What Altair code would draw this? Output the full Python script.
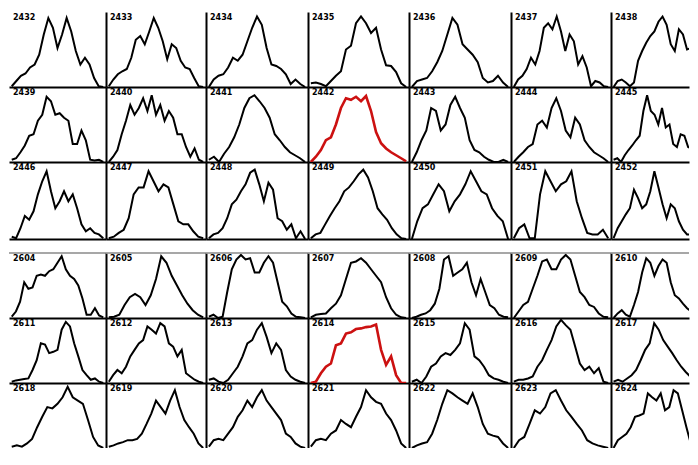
import altair as alt
import pandas as pd

# ---- panel ids (two groups of 3 rows x 7 columns) ----
top_rows = [[2432, 2433, 2434, 2435, 2436, 2437, 2438],
            [2439, 2440, 2441, 2442, 2443, 2444, 2445],
            [2446, 2447, 2448, 2449, 2450, 2451, 2452]]
bottom_rows = [[2604, 2605, 2606, 2607, 2608, 2609, 2610],
               [2611, 2612, 2613, 2614, 2615, 2616, 2617],
               [2618, 2619, 2620, 2621, 2622, 2623, 2624]]
highlight = [2442, 2614]

# ---- traces (relative height, 0-100) ----
s2432 = [1, 8, 15, 18, 26, 30, 43, 70, 92, 79, 52, 70, 92, 74, 48, 30, 39, 30, 12, 1, 0]
s2433 = [1, 10, 17, 21, 24, 39, 63, 68, 57, 74, 92, 79, 61, 37, 57, 52, 35, 26, 24, 12, 1, 0]
s2434 = [0, 10, 15, 17, 26, 39, 35, 43, 61, 79, 94, 83, 52, 30, 28, 24, 17, 4, 10, 4, 0]
s2435 = [5, 6, 4, 1, 8, 15, 21, 50, 55, 85, 94, 85, 72, 79, 50, 29, 28, 20, 5, 0]
s2436 = [0, 8, 10, 12, 21, 33, 48, 70, 92, 83, 57, 50, 43, 33, 12, 6, 8, 15, 6, 0]
s2437 = [0, 10, 15, 24, 39, 30, 48, 79, 85, 77, 94, 74, 48, 70, 61, 30, 41, 26, 1, 8, 6, 1, 0]
s2438 = [0, 8, 10, 6, 1, 6, 35, 48, 59, 68, 74, 87, 94, 83, 57, 48, 77, 70, 50, 52, 30, 8]

s2439 = [3, 5, 13, 22, 35, 37, 55, 63, 87, 81, 63, 65, 59, 55, 24, 24, 42, 29, 3, 2, 3, 0]
s2440 = [0, 7, 16, 37, 55, 76, 63, 72, 85, 68, 89, 63, 76, 55, 68, 59, 37, 37, 20, 7, 18, 3, 0]
s2441 = [3, 7, 0, 11, 20, 33, 50, 72, 85, 89, 81, 72, 59, 37, 29, 20, 13, 9, 5, 0]
s2442 = [0, 7, 16, 29, 33, 50, 72, 85, 83, 87, 81, 88, 68, 40, 25, 18, 13, 9, 5, 1]
s2443 = [0, 13, 29, 42, 72, 68, 42, 50, 76, 87, 72, 59, 29, 16, 13, 7, 3, 0, 0, 3, 0]
s2444 = [0, 7, 13, 20, 24, 50, 55, 46, 72, 85, 68, 42, 33, 59, 50, 29, 20, 13, 9, 5, 0]
s2445 = [3, 5, 0, 9, 16, 22, 29, 35, 68, 89, 68, 63, 50, 72, 46, 50, 24, 20, 37, 35, 20, 18, 12, 5]

s2446 = [3, 1, 14, 30, 25, 36, 58, 75, 88, 62, 40, 49, 62, 49, 58, 40, 19, 10, 14, 8, 6, 1]
s2447 = [1, 3, 8, 12, 27, 58, 67, 67, 88, 75, 62, 71, 67, 45, 23, 19, 19, 10, 3, 1]
s2448 = [1, 6, 8, 14, 27, 45, 51, 62, 71, 86, 90, 71, 49, 73, 64, 27, 23, 12, 19, 1, 10, 0]
s2449 = [1, 6, 8, 19, 30, 40, 49, 62, 67, 75, 84, 90, 80, 62, 40, 32, 25, 14, 6, 1, 0]
s2450 = [0, 23, 40, 45, 58, 71, 62, 36, 49, 58, 71, 88, 75, 62, 58, 40, 30, 23, 0]
s2451 = [1, 14, 19, 1, 1, 58, 88, 75, 62, 71, 75, 88, 49, 27, 8, 6, 6, 12, 1]
s2452 = [1, 14, 23, 32, 40, 64, 53, 40, 45, 62, 88, 67, 45, 27, 45, 40, 23, 12, 6, 6, 3, 0]

s2604 = [2, 10, 25, 55, 45, 47, 65, 67, 65, 72, 75, 85, 95, 75, 65, 60, 50, 30, 5, 5, 15, 4, 1]
s2605 = [1, 2, 5, 20, 32, 37, 32, 20, 35, 60, 95, 85, 65, 50, 35, 22, 12, 5, 1]
s2606 = [2, 5, 0, 2, 40, 75, 90, 97, 90, 92, 70, 70, 85, 95, 85, 55, 25, 18, 7, 2, 1, 0]
s2607 = [1, 5, 6, 7, 15, 22, 35, 60, 85, 87, 92, 85, 75, 65, 55, 32, 15, 5, 1, 0]
s2608 = [0, 2, 5, 7, 12, 22, 45, 90, 95, 65, 70, 75, 85, 55, 35, 60, 40, 20, 15, 5, 2, 1]
s2609 = [0, 10, 20, 25, 45, 65, 87, 90, 75, 75, 90, 97, 90, 65, 40, 32, 20, 17, 7, 2, 1]
s2610 = [0, 7, 12, 5, 2, 20, 40, 70, 92, 85, 65, 80, 90, 85, 55, 35, 30, 22, 15, 10, 5, 1]

s2611 = [2, 4, 5, 6, 7, 20, 35, 61, 59, 46, 48, 51, 82, 94, 87, 61, 41, 20, 12, 5, 7, 2, 0]
s2612 = [2, 12, 20, 15, 25, 41, 51, 61, 66, 87, 82, 76, 92, 87, 61, 56, 41, 51, 15, 10, 5, 2, 0]
s2613 = [5, 7, 2, 0, 5, 15, 25, 41, 61, 66, 82, 92, 71, 46, 61, 51, 20, 10, 5, 2, 0]
s2614 = [0, 2, 15, 25, 30, 58, 61, 76, 78, 83, 84, 86, 87, 90, 51, 28, 41, 12, 0, 0]
s2615 = [2, 5, 0, 10, 25, 30, 41, 46, 43, 51, 61, 92, 82, 41, 35, 25, 12, 7, 5, 2, 0]
s2616 = [2, 5, 5, 7, 10, 25, 35, 51, 66, 87, 97, 89, 82, 56, 30, 20, 25, 15, 23, 2, 0]
s2617 = [2, 5, 2, 7, 12, 20, 35, 51, 61, 92, 82, 66, 56, 46, 35, 25, 17, 10, 5, 1]

s2618 = [2, 4, 2, 7, 14, 32, 48, 63, 61, 68, 78, 94, 78, 73, 68, 43, 17, 4, 0]
s2619 = [2, 4, 7, 9, 12, 12, 14, 22, 37, 53, 73, 63, 53, 73, 89, 63, 43, 32, 22, 7, 0]
s2620 = [2, 12, 14, 12, 22, 32, 48, 58, 73, 63, 78, 89, 73, 63, 53, 43, 22, 17, 7, 2, 0]
s2621 = [2, 12, 14, 12, 22, 27, 43, 37, 32, 48, 63, 89, 78, 71, 68, 53, 43, 27, 7, 0]
s2622 = [0, 4, 7, 9, 22, 43, 68, 89, 84, 78, 73, 68, 84, 63, 37, 22, 19, 17, 7, 0]
s2623 = [0, 12, 17, 37, 58, 53, 63, 84, 89, 73, 58, 48, 37, 27, 12, 7, 4, 2, 0]
s2624 = [0, 12, 17, 22, 32, 48, 50, 53, 84, 78, 73, 84, 58, 63, 89, 84, 58, 32, 7, 2, 0]

series = {k: v for k, v in globals().items() if k.startswith("s2") and isinstance(v, list)}

col_widths = [97, 100, 102, 101, 102, 100, 78]
top_heights = [75, 75, 77]
bottom_heights = [65, 65, 65]


def cell(pid, col, height, show_bottom, top_rule):
    vals = series["s%d" % pid]
    n = len(vals)
    df = pd.DataFrame({"x": [i / (n - 1) for i in range(n)], "v": vals})
    w = col_widths[col]
    xmax = 0.88 if col == 6 else 1.03
    red = pid in highlight
    line = alt.Chart(df).mark_line(
        color="#cc1111" if red else "black",
        strokeWidth=2.6 if red else 2,
        clip=True,
    ).encode(
        x=alt.X("x:Q", scale=alt.Scale(domain=[-0.03, xmax], nice=False, zero=False),
                axis=alt.Axis(title=None, labels=False, ticks=False, grid=False,
                              domain=show_bottom, domainColor="black", domainWidth=2)),
        y=alt.Y("v:Q", scale=alt.Scale(domain=[0, 100], nice=False),
                axis=alt.Axis(title=None, labels=False, ticks=False, grid=False,
                              domain=(col != 0), domainColor="black", domainWidth=2)),
    )
    label = alt.Chart(pd.DataFrame({"t": [str(pid)]})).mark_text(
        align="left", baseline="middle", fontSize=8, fontWeight="bold",
        font="DejaVu Sans", color="black",
    ).encode(text="t:N", x=alt.value(4), y=alt.value(6))
    layers = [line, label]
    if top_rule:
        rule = alt.Chart(pd.DataFrame({"a": [0]})).mark_rule(
            color="#8a8a8a", strokeWidth=1.5
        ).encode(x=alt.value(0), x2=alt.value(w), y=alt.value(0))
        layers.append(rule)
    return alt.layer(*layers).properties(width=w, height=height)


def group(rows, heights, is_bottom):
    out = []
    for r, ids in enumerate(rows):
        show_bottom = not (is_bottom and r == len(rows) - 1)
        top_rule = is_bottom and r == 0
        out.append(alt.hconcat(*[cell(pid, c, heights[r], show_bottom, top_rule)
                                 for c, pid in enumerate(ids)],
                               spacing=0, bounds="flush"))
    return alt.vconcat(*out, spacing=0)


chart = alt.vconcat(
    group(top_rows, top_heights, False),
    group(bottom_rows, bottom_heights, True),
    spacing=13,
).properties(
    padding={"left": 0, "top": 4, "right": 0, "bottom": 0},
    background="white",
).configure_view(strokeWidth=0)

chart.save("out.html", embed_options={"renderer": "svg", "actions": False})
